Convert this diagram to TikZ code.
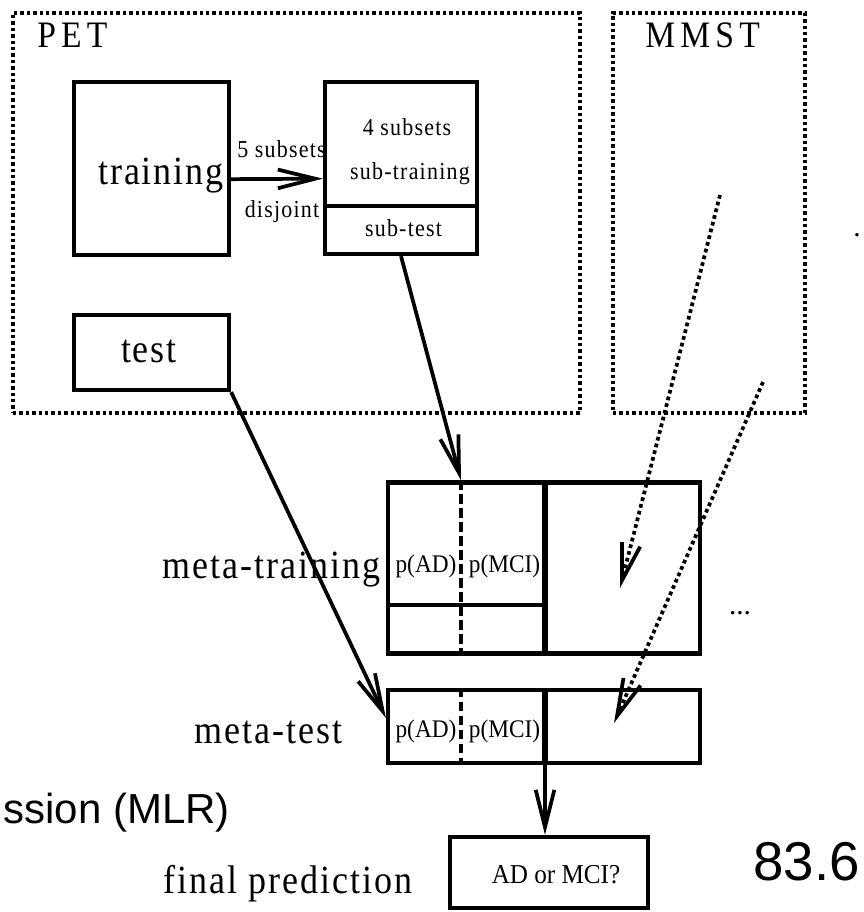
\documentclass[tikz,border=0pt]{standalone}
\usepackage{fontspec}
\setmainfont{Liberation Serif}
\setsansfont{Liberation Sans}
\newfontfamily\widefont[LetterSpace=5,FakeStretch=0.9]{Liberation Serif}
\newfontfamily\headfont[LetterSpace=14,FakeStretch=0.9]{Liberation Serif}
\newfontfamily\tallfont[FakeStretch=0.92]{Liberation Serif}
\usetikzlibrary{arrows.meta}

\begin{document}
\begin{tikzpicture}[x=0.75pt,y=-0.75pt]
\tikzset{
  box/.style={draw,line width=3.2pt,inner sep=0pt},
  groupbox/.style={draw,line width=2.6pt,dash pattern=on 2.6pt off 2.2pt,inner sep=0pt},
  arr/.style={-{Straight Barb[length=28pt,width=14pt]},line width=2.8pt},
  dotarr/.style={arr,line width=2.8pt,dash pattern=on 2.8pt off 2.4pt},
  divider/.style={line width=3.2pt},
  heavyline/.style={line width=4pt},
  halfline/.style={line width=3pt,dash pattern=on 7pt off 3.5pt},
  headtext/.style={font=\headfont\fontsize{28}{30}\selectfont,inner sep=0pt},
  bigtext/.style={font=\widefont\fontsize{30}{32}\selectfont,inner sep=0pt},
  smalltext/.style={font=\widefont\fontsize{18.3}{20}\selectfont,inner sep=0pt},
  probtext/.style={font=\tallfont\fontsize{19}{21}\selectfont,inner sep=0pt},
  answertext/.style={font=\tallfont\fontsize{20.5}{22}\selectfont,inner sep=0pt},
  dotstext/.style={font=\fontsize{22}{24}\selectfont,inner sep=0pt}
}
\useasboundingbox (0,0) rectangle (863,912);
\node[groupbox,minimum width=425.25pt,minimum height=300pt] (n_pet) at (296.5,213) {};
\node[groupbox,minimum width=144pt,minimum height=300pt] (n_mmst) at (709,213) {};
\node[headtext,anchor=base west] (t_pet) at (37,48) {PET};
\node[headtext,anchor=base west] (t_mmst) at (645,48) {MMST};
\node[box,minimum width=116.25pt,minimum height=129.75pt] (n_train) at (151.5,168.5) {};
\node[bigtext,anchor=base] (t_train) at (161,185) {training};
\node[box,minimum width=114pt,minimum height=129pt] (n_sub) at (401,168) {};
\node[smalltext,anchor=base] (t_four) at (407,136) {4 subsets};
\node[smalltext,anchor=base] (t_subtrain) at (410,180) {sub-training};
\node[smalltext,anchor=base] (t_subtest) at (403.5,237) {sub-test};
\node[smalltext,anchor=base] (t_five) at (281.5,158) {5 subsets};
\node[smalltext,anchor=base] (t_disjoint) at (282,218) {disjoint};
\node[box,minimum width=116.25pt,minimum height=56.25pt] (n_test) at (151.5,352.5) {};
\node[bigtext,anchor=base] (t_test) at (149,363) {test};
\node[box,minimum width=234pt,minimum height=128.25pt] (n_metatrain) at (544,568) {};
\node[box,minimum width=234pt,minimum height=54.75pt] (n_metatest) at (544,726.5) {};
\node[box,minimum width=148.5pt,minimum height=53.25pt] (n_final) at (549,872.5) {};
\node[bigtext,anchor=base east] (t_metatrain) at (381,578) {meta-training};
\node[bigtext,anchor=base east] (t_metatest) at (343,743) {meta-test};
\node[bigtext,anchor=base east] (t_final) at (413,893) {final prediction};
\node[probtext,anchor=base] (t_ad1) at (426,572) {p(AD)};
\node[probtext,anchor=base] (t_mci1) at (504.5,572) {p(MCI)};
\node[probtext,anchor=base] (t_ad2) at (426,737) {p(AD)};
\node[probtext,anchor=base] (t_mci2) at (504.5,737) {p(MCI)};
\node[answertext,anchor=base] (t_answer) at (556,883) {AD or MCI?};
\node[dotstext,anchor=base] (t_more) at (740,614) {...};
\node[dotstext,anchor=base] (t_dot) at (857,237) {.};
\node[font=\sffamily\fontsize{31.5}{34}\selectfont,inner sep=0pt,anchor=base east] (t_mlr) at (230,823) {ssion (MLR)};
\node[font=\sffamily\fontsize{41}{44}\selectfont,inner sep=0pt,anchor=base west] (t_score) at (753,880) {83.6};
\coordinate (c_div) at (545,0);
\coordinate (c_dash) at (461,0);
\coordinate (c_out) at ([xshift=0.75pt]n_metatest.south);
\coordinate (d1_from) at (720,195);
\coordinate (d1_to) at (620,588);
\coordinate (d2_from) at (763,382);
\coordinate (d2_to) at (614,723);
\draw[divider] (n_sub.west |- 0,206) -- (n_sub.east |- 0,206);
\draw[heavyline] (c_div |- n_metatrain.north) -- (c_div |- n_metatrain.south);
\draw[divider] (n_metatrain.west |- 0,605) -- (c_div |- 0,605);
\draw[halfline] (c_dash |- n_metatrain.north) -- (c_dash |- n_metatrain.south);
\draw[heavyline] (c_div |- n_metatest.north) -- (c_div |- n_metatest.south);
\draw[halfline] (c_dash |- n_metatest.north) -- (c_dash |- n_metatest.south);
\draw[arr] ([yshift=-8pt]n_train.east) -- ([yshift=-8pt]n_sub.west);
\draw[arr] (n_sub.south) -- (c_dash |- n_metatrain.north);
\draw[arr] (n_test.south east) -- ([yshift=6.4pt]n_metatest.west);
\draw[arr] (c_out) -- (c_out |- n_final.north);
\draw[dotarr] (d1_from) -- (d1_to);
\draw[dotarr] (d2_from) -- (d2_to);
\end{tikzpicture}
\end{document}
